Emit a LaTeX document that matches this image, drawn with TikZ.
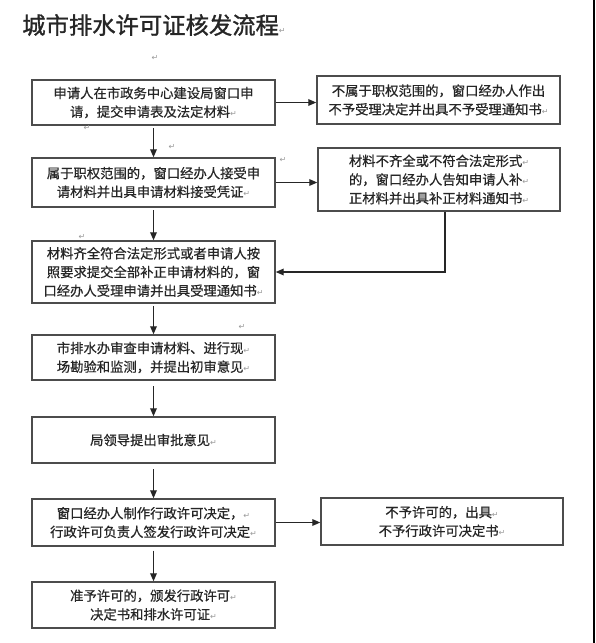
\documentclass[tikz,border=0pt]{standalone}
\usepackage{fontspec}
\setmainfont[FakeBold=0.6]{Noto Sans CJK SC}
\newfontfamily\titlef[FakeBold=1.2]{Noto Sans CJK SC}
\newfontfamily\symf{DejaVu Sans}
\usetikzlibrary{arrows.meta}
\newcommand\retmark{{\symf\color{black!40}\fontsize{6}{6}\selectfont ↵}}
\begin{document}
\begin{tikzpicture}[x=0.75pt,y=-0.75pt,
  box/.style={draw=black!70, line width=1.1pt, align=center, inner sep=0pt,
    font=\fontsize{10}{14}\selectfont, text=black!85},
  lbox/.style={box, minimum width=182.25pt},
  conn/.style={draw=black!85, line width=0.9pt, -{Triangle[length=6pt,width=5pt]}},
  vconn/.style={conn, shorten <=2pt},
  stray/.style={inner sep=0pt, font=\symf\color{black!40}\fontsize{6}{6}\selectfont}
]
\useasboundingbox (0,0) rectangle (596,643);
\fill[white] (0,0) rectangle (596,643);
\draw[line width=1.5pt] (594,0) -- (594,643);

\node[anchor=west, inner sep=0pt, font=\titlef\fontsize{17.5}{20}\selectfont, text=black!85] (title) at (22,25) {城市排水许可证核发流程\retmark};

\node[lbox, minimum height=33.75pt] (b1) at (153.5,102.5) {申请人在市政务中心建设局窗口申\\请，提交申请表及法定材料\retmark};
\node[lbox, minimum height=36.75pt] (b2) at (153.5,182.5) {属于职权范围的，窗口经办人接受申\\请材料并出具申请材料接受凭证\retmark};
\node[lbox, minimum height=46.5pt] (b3) at (153.5,272) {材料齐全符合法定形式或者申请人按\\照要求提交全部补正申请材料的，窗\\口经办人受理申请并出具受理通知书\retmark};
\node[lbox, minimum height=33.75pt] (b4) at (153.5,357.5) {市排水办审查申请材料、进行现\retmark\\场勘验和监测，并提出初审意见\retmark};
\node[lbox, minimum height=34.5pt] (b5) at (153.5,440) {局领导提出审批意见\retmark};
\node[lbox, minimum height=35.25pt] (b6) at (153.5,522.5) {窗口经办人制作行政许可决定，\retmark\\行政许可负责人签发行政许可决定\retmark};
\node[lbox, minimum height=34.5pt] (b7) at (153.5,605) {准予许可的，颁发行政许可\retmark\\决定书和排水许可证\retmark};

\node[box, minimum width=182.25pt, minimum height=36pt] (r1) at (438.5,100) {不属于职权范围的，窗口经办人作出\\不予受理决定并出具不予受理通知书\retmark};
\node[box, minimum width=181.5pt, minimum height=47.25pt] (r2) at (439,179.5) {材料不齐全或不符合法定形式\retmark\\的，窗口经办人告知申请人补\retmark\\正材料并出具补正材料通知书\retmark};
\node[box, minimum width=181.5pt, minimum height=35.25pt] (r6) at (442,521.5) {不予许可的，出具\retmark\\不予行政许可决定书\retmark};

\node[stray] (s1) at (155,58) {↵};
\node[stray] (s2) at (87,128) {↵};
\node[stray] (s3) at (172,147) {↵};
\node[stray] (s4) at (283,160) {↵};
\node[stray] (s5) at (82,237) {↵};
\node[stray] (s6) at (242,327) {↵};

\draw[vconn] (b1) -- (b2);
\draw[vconn] (b2) -- (b3);
\draw[vconn] (b3) -- (b4);
\draw[vconn, shorten <=4pt] (b4) -- (b5);
\draw[vconn, shorten <=4pt] (b5) -- (b6);
\draw[vconn, shorten <=3pt] (b6) -- (b7);

\draw[conn] (b1.east) -- (r1.west |- b1.east);
\draw[conn] (b2.east) -- (r2.west |- b2.east);
\draw[conn] ([xshift=4.5pt]r2.south) |- (b3.east);
\draw[conn] (b6.east) -- (r6.west |- b6.east);
\end{tikzpicture}
\end{document}
